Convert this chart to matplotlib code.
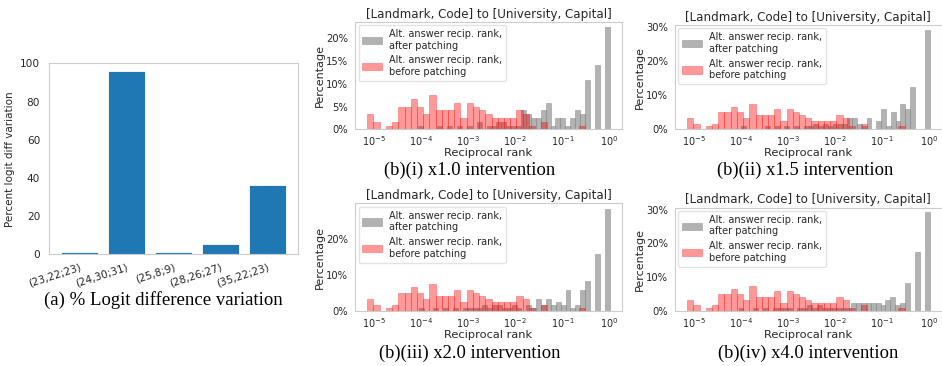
import numpy as np
import matplotlib.pyplot as plt
from matplotlib.ticker import PercentFormatter

plt.rcParams.update({
    "font.family": "DejaVu Sans",
    "axes.edgecolor": "#cccccc",
    "axes.linewidth": 0.8,
    "text.color": "#262626",
    "axes.labelcolor": "#262626",
    "xtick.color": "#262626",
    "ytick.color": "#262626",
    "xtick.bottom": False,
    "ytick.left": False,
    "xtick.minor.bottom": False,
    "ytick.minor.left": False,
})

# (a) logit diff variation per head group
head_labels = ["(23,22;23)", "(24,30;31)", "(25,8;9)", "(28,26;27)", "(35,22;23)"]
logit_diff_pct = [1.2, 95.8, 1.5, 5.3, 36.2]

# (b) reciprocal rank histograms, 120 prompts, 39 log bins ending at 1
n_prompts = 120
before_min_log = -5.14
before_counts = [4, 2, 0, 1, 2, 6, 6, 8, 6, 4, 9, 5, 5, 5, 7, 3, 7, 6, 5, 4,
                 3, 3, 3, 3, 5, 4, 1, 0, 2, 0, 0, 0, 0, 0, 1, 0, 0, 0, 0]

after_min_log = [-4.07, -4.0, -4.05, -4.05]
after_counts = [
    [1, 0, 0, 0, 1, 0, 1, 0, 1, 0, 1, 0, 2, 0, 1, 1, 2, 2, 1, 1,
     1, 5, 4, 3, 3, 5, 7, 1, 3, 3, 1, 3, 5, 4, 13, 0, 17, 0, 27],
    [1, 0, 0, 0, 0, 1, 0, 1, 0, 1, 0, 1, 0, 1, 1, 2, 1, 2, 1, 2,
     2, 2, 4, 4, 2, 1, 4, 0, 3, 7, 1, 6, 3, 9, 7, 15, 0, 0, 35],
    [1, 0, 0, 1, 0, 1, 0, 1, 0, 1, 1, 1, 1, 2, 1, 2, 2, 1, 1, 2,
     1, 0, 2, 1, 4, 2, 4, 2, 3, 2, 7, 1, 2, 7, 10, 0, 19, 0, 34],
    [1, 0, 0, 1, 0, 1, 0, 1, 1, 1, 1, 0, 1, 1, 2, 1, 2, 1, 1, 1,
     1, 1, 1, 3, 3, 3, 3, 3, 3, 2, 4, 5, 2, 3, 10, 0, 21, 0, 35],
]
captions = ["(b)(i) x1.0 intervention", "(b)(ii) x1.5 intervention",
            "(b)(iii) x2.0 intervention", "(b)(iv) x4.0 intervention"]

fig = plt.figure(figsize=(9.42, 3.66), dpi=100)

# bar chart
ax = fig.add_axes([0.0523, 0.305, 0.2637, 0.522])
ax.bar(head_labels, logit_diff_pct, color="#1f77b4", edgecolor="white", linewidth=0.6)
ax.set_ylim(0, 100)
ax.set_ylabel("Percent logit diff variation", fontsize=7.5, labelpad=4)
ax.tick_params(axis="y", labelsize=7.6, pad=3)
ax.tick_params(axis="x", labelsize=7.5, pad=2)
plt.setp(ax.get_xticklabels(), rotation=18, ha="right", rotation_mode="anchor")
fig.text(0.173, 0.18, "(a) % Logit difference variation", family="Liberation Serif",
         fontsize=13.5, ha="center", va="center", color="black")

# histograms
boxes = [[0.377, 0.6467, 0.283, 0.294], [0.7166, 0.6467, 0.283, 0.285],
         [0.377, 0.150, 0.283, 0.294], [0.7166, 0.150, 0.283, 0.283]]
cap_pos = [(0.498, 0.535), (0.855, 0.535), (0.499, 0.035), (0.858, 0.035)]

red_edges = np.logspace(before_min_log, 0, 40)
red_mid = np.sqrt(red_edges[:-1] * red_edges[1:])

for i in range(4):
    ax = fig.add_axes(boxes[i])
    gray_edges = np.logspace(after_min_log[i], 0, 40)
    gray_mid = np.sqrt(gray_edges[:-1] * gray_edges[1:])
    ax.hist(gray_mid, bins=gray_edges, weights=np.array(after_counts[i]) * 100 / n_prompts,
            color="gray", alpha=0.6, edgecolor="gray", linewidth=0.5,
            label="Alt. answer recip. rank,\nafter patching")
    ax.hist(red_mid, bins=red_edges, weights=np.array(before_counts) * 100 / n_prompts,
            color="red", alpha=0.4, edgecolor="red", linewidth=0.5,
            label="Alt. answer recip. rank,\nbefore patching")
    ax.set_xscale("log")
    ax.yaxis.set_major_formatter(PercentFormatter(decimals=0))
    ax.set_title("[Landmark, Code] to [University, Capital]", fontsize=8.6, pad=3)
    ax.set_xlabel("Reciprocal rank", fontsize=8.2, labelpad=0)
    ax.set_ylabel("Percentage", fontsize=8, labelpad=1)
    ax.tick_params(axis="y", labelsize=7.2, pad=1.5)
    ax.tick_params(axis="x", labelsize=7, pad=0)
    ax.legend(loc="upper left", fontsize=7, handlelength=2.0, handleheight=0.8,
              labelspacing=0.48, borderpad=0.4, borderaxespad=0.35,
              handletextpad=0.75, framealpha=0.8, edgecolor="#dddddd")
    fig.text(cap_pos[i][0], cap_pos[i][1], captions[i], family="Liberation Serif",
             fontsize=13.3, ha="center", va="center", color="black")

fig.savefig("out.png", dpi=100)
